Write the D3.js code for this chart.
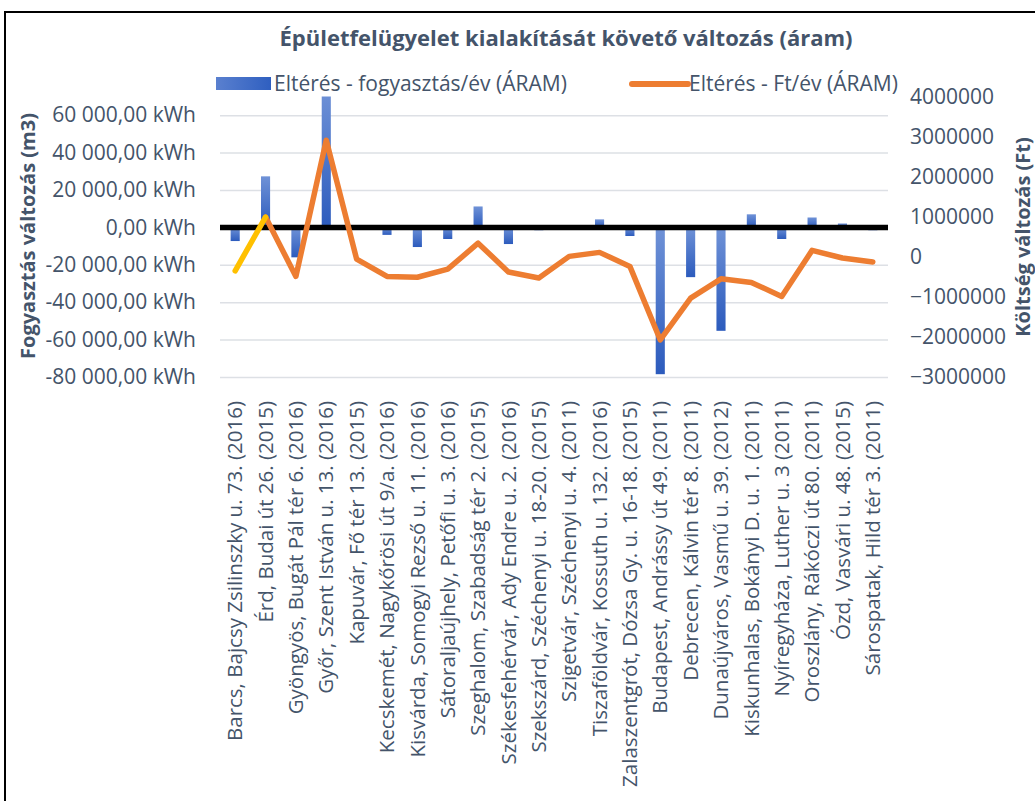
<!DOCTYPE html>
<html><head><meta charset="utf-8">
<script src="https://cdn.jsdelivr.net/npm/d3@7"></script>
<style>html,body{margin:0;padding:0;background:#fff;overflow:hidden}</style>
</head><body>
<svg id="chart" width="1035" height="801"></svg>
<script>
const categories = [
  "Barcs, Bajcsy Zsilinszky u. 73. (2016)",
  "Érd, Budai út 26. (2015)",
  "Gyöngyös, Bugát Pál tér 6. (2016)",
  "Győr, Szent István u. 13. (2016)",
  "Kapuvár, Fő tér 13. (2015)",
  "Kecskemét, Nagykőrösi út 9/a. (2016)",
  "Kisvárda, Somogyi Rezső u. 11. (2016)",
  "Sátoraljaújhely, Petőfi u. 3. (2016)",
  "Szeghalom, Szabadság tér 2. (2015)",
  "Székesfehérvár, Ady Endre u. 2. (2016)",
  "Szekszárd, Széchenyi u. 18-20. (2015)",
  "Szigetvár, Széchenyi u. 4. (2011)",
  "Tiszaföldvár, Kossuth u. 132. (2016)",
  "Zalaszentgrót, Dózsa Gy. u. 16-18. (2015)",
  "Budapest, Andrássy út 49. (2011)",
  "Debrecen, Kálvin tér 8. (2011)",
  "Dunaújváros, Vasmű u. 39. (2012)",
  "Kiskunhalas, Bokányi D. u. 1. (2011)",
  "Nyíregyháza, Luther u. 3 (2011)",
  "Oroszlány, Rákóczi út 80. (2011)",
  "Ózd, Vasvári u. 48. (2015)",
  "Sárospatak, Hild tér 3. (2011)"
];
// Eltérés - fogyasztás/év (ÁRAM), kWh
const consumption = [-7300, 27300, -16000, 74000, -500, -4000, -10500, -6200, 11200, -8900, -1500,
  300, 4300, -4600, -78500, -26600, -55300, 7000, -6200, 5300, 2100, -1500];
// Eltérés - Ft/év (ÁRAM)
const cost = [-350000, 990000, -490000, 2910000, -60000, -490000, -510000, -310000, 340000, -380000, -530000,
  10000, 110000, -240000, -2075000, -1030000, -550000, -640000, -990000, 160000, -30000, -130000];
const leftTicks = [60000, 40000, 20000, 0, -20000, -40000, -60000, -80000];
const rightTicks = [4000000, 3000000, 2000000, 1000000, 0, -1000000, -2000000, -3000000];
const leftDomain = [-80000, 70000];
const rightDomain = [-3000000, 4000000];
const title = "Épületfelügyelet kialakítását követő változás (áram)";
const legendLabels = ["Eltérés - fogyasztás/év (ÁRAM)", "Eltérés - Ft/év (ÁRAM)"];
const leftTitle = "Fogyasztás változás (m3)";
const rightTitle = "Költség változás (Ft)";

const svg = d3.select("#chart");
const font = "'Open Sans', sans-serif";
const txt = "#44546a";
const plot = {left: 220, right: 888, top: 96.5, bottom: 377};

const x = d3.scaleBand().domain(categories).range([plot.left, plot.right]).padding(0);
const yL = d3.scaleLinear().domain(leftDomain).range([plot.bottom, plot.top]);
const yR = d3.scaleLinear().domain(rightDomain).range([plot.bottom, plot.top]);

const defs = svg.append("defs");
const g = defs.append("linearGradient").attr("id", "barGrad").attr("x1", 0).attr("y1", 0).attr("x2", 0).attr("y2", 1);
g.append("stop").attr("offset", "0%").attr("stop-color", "#6f92d7");
g.append("stop").attr("offset", "100%").attr("stop-color", "#2c5bbd");
const gl = defs.append("linearGradient").attr("id", "legGrad").attr("x1", 0).attr("y1", 0).attr("x2", 1).attr("y2", 0);
gl.append("stop").attr("offset", "0%").attr("stop-color", "#5a80cf");
gl.append("stop").attr("offset", "100%").attr("stop-color", "#2f5fc0");
defs.append("clipPath").attr("id", "plotClip").append("rect")
  .attr("x", plot.left).attr("y", plot.top).attr("width", plot.right - plot.left).attr("height", plot.bottom - plot.top);

// outer border
svg.append("rect").attr("x", 5).attr("y", 12).attr("width", 1100).attr("height", 900)
  .attr("fill", "none").attr("stroke", "#000").attr("stroke-width", 2);

// gridlines
const axL = d3.axisLeft(yL).tickValues(leftTicks).tickSize(-(plot.right - plot.left)).tickFormat("");
const gridG = svg.append("g").attr("transform", `translate(${plot.left},0)`).call(axL);
gridG.select(".domain").remove();
gridG.selectAll(".tick line").attr("stroke", "#dde0e5").attr("stroke-width", 1.5);

// left tick labels
const fmtL = v => {
  const s = d3.format(",.2f")(Math.abs(v)).replace(/,/g, " ").replace(".", ",");
  return (v < 0 ? "-" : "") + s + " kWh";
};
const lab = d3.axisLeft(yL).tickValues(leftTicks).tickSize(0).tickPadding(0).tickFormat(fmtL);
const labG = svg.append("g").attr("transform", "translate(196,0)").call(lab);
labG.select(".domain").remove();
labG.selectAll("text").attr("fill", txt).style("font-family", font).style("font-size", "21px");

// right tick labels
const labR = d3.axisRight(yR).tickValues(rightTicks).tickSize(0).tickPadding(0).tickFormat(d3.format("d"));
const labRG = svg.append("g").attr("transform", "translate(910,0)").call(labR);
labRG.select(".domain").remove();
labRG.selectAll("text").attr("fill", txt).style("font-family", font).style("font-size", "21px");

// bars
const bw = x.bandwidth() * 0.3;
svg.append("g").attr("clip-path", "url(#plotClip)").selectAll("rect").data(consumption).join("rect")
  .attr("x", (d, i) => x(categories[i]) + x.bandwidth() / 2 - bw / 2)
  .attr("width", bw)
  .attr("y", d => Math.min(yL(d), yL(0)))
  .attr("height", d => Math.abs(yL(d) - yL(0)))
  .attr("fill", "url(#barGrad)");

// zero line
svg.append("line").attr("x1", plot.left).attr("x2", plot.right).attr("y1", yL(0)).attr("y2", yL(0))
  .attr("stroke", "#000").attr("stroke-width", 5.5);

// cost line
const pts = cost.map((v, i) => ({v, i}));
const lineI = d3.line().x(d => x(categories[d.i]) + x.bandwidth() / 2).y(d => yR(d.v));
svg.append("path").attr("d", lineI(pts.slice(1))).attr("fill", "none").attr("stroke", "#ed7d31")
  .attr("stroke-width", 5.5).attr("stroke-linejoin", "round").attr("stroke-linecap", "round");
svg.append("path").attr("d", lineI(pts.slice(0, 2))).attr("fill", "none").attr("stroke", "#ffc000")
  .attr("stroke-width", 5.5).attr("stroke-linecap", "round");

// x labels
svg.append("g").selectAll("text").data(categories).join("text")
  .attr("transform", d => `translate(${x(d) + x.bandwidth() / 2},401) rotate(-90)`)
  .attr("text-anchor", "end").attr("dy", "0.35em")
  .attr("fill", txt).style("font-family", font).style("font-size", "20.5px")
  .text(d => d);

// title
svg.append("text").attr("x", 566).attr("y", 38).attr("dy", "0.35em").attr("text-anchor", "middle")
  .attr("fill", txt).style("font-family", font).style("font-size", "22px").style("font-weight", "bold")
  .text(title);

// legend
svg.append("rect").attr("x", 216).attr("y", 77).attr("width", 55).attr("height", 13).attr("fill", "url(#legGrad)");
svg.append("text").attr("x", 274).attr("y", 84).attr("dy", "0.35em").attr("fill", txt)
  .style("font-family", font).style("font-size", "21px").text(legendLabels[0]);
svg.append("line").attr("x1", 632).attr("x2", 688).attr("y1", 84).attr("y2", 84)
  .attr("stroke", "#ed7d31").attr("stroke-width", 6).attr("stroke-linecap", "round");
svg.append("text").attr("x", 689).attr("y", 84).attr("dy", "0.35em").attr("fill", txt)
  .style("font-family", font).style("font-size", "21px").text(legendLabels[1]);

// axis titles
svg.append("text").attr("transform", "translate(28,236) rotate(-90)").attr("text-anchor", "middle")
  .attr("dy", "0.35em").attr("fill", txt).style("font-family", font).style("font-size", "20px")
  .style("font-weight", "bold").text(leftTitle);
svg.append("text").attr("transform", "translate(1023,237) rotate(-90)").attr("text-anchor", "middle")
  .attr("dy", "0.35em").attr("fill", txt).style("font-family", font).style("font-size", "20px")
  .style("font-weight", "bold").text(rightTitle);
</script>
</body></html>
